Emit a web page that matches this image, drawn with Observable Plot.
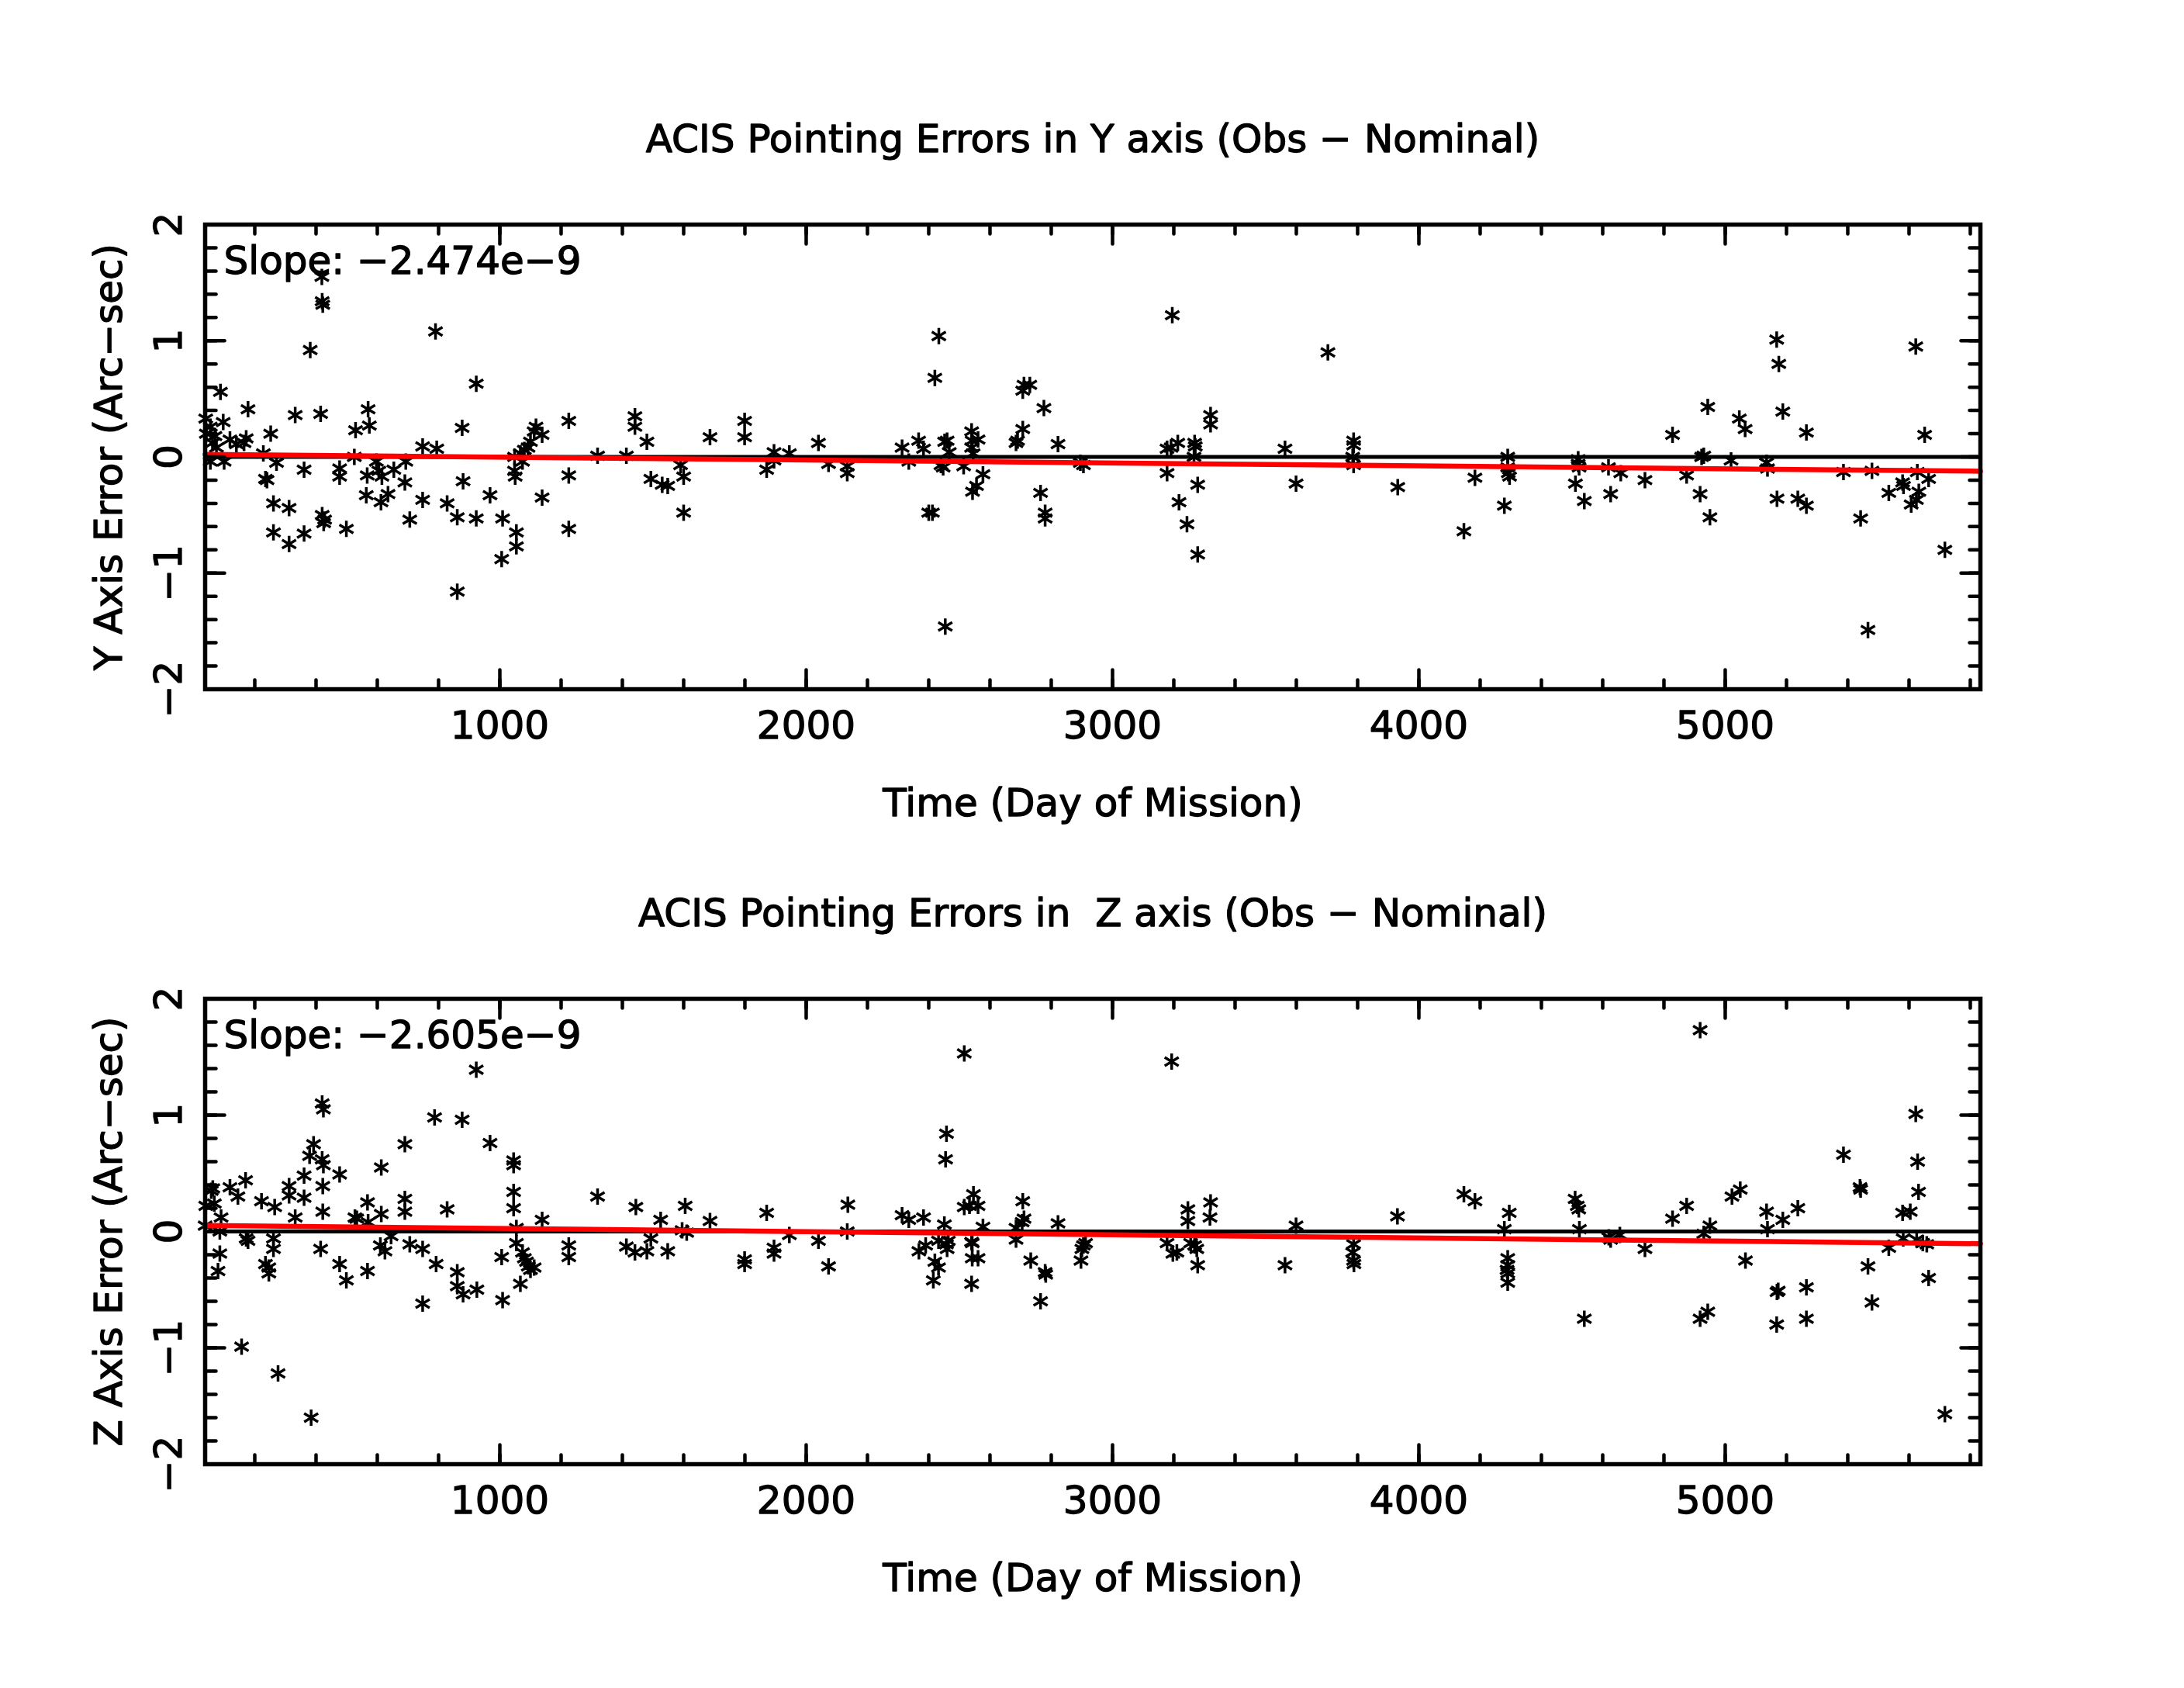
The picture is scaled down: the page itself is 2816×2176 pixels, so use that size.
<!DOCTYPE html>
<html>
<head>
<meta charset="utf-8">
<style>
  html, body { margin: 0; padding: 0; background: #fff; }
  svg { display: block; }
</style>
<script src="https://cdn.jsdelivr.net/npm/d3@7"></script>
<script src="https://cdn.jsdelivr.net/npm/@observablehq/plot@0.6"></script>
</head>
<body>
<div id="chart"></div>
<script>
// ---------------- data ----------------
const xDomain = [38, 5833];          // Day of Mission shown on the x axis
const yDomain = [-2, 2];             // Arc-sec

// Y-axis pointing errors: [day of mission, error (arc-sec)]
const yAxisPoints = [
  [40,0.33],[42,0.2],[55,0.26],[62,0.12],[70,0.18],[75,0.08],[55,-0.04],[88,0.56],[97,0.3],[100,-0.04],
  [119,0.15],[140,0.11],[165,0.12],[172,0.16],[178,0.41],
  [228,0.03],[235,-0.19],[240,-0.2],[252,0.2],[261,-0.4],[261,-0.65],[271,-0.05],[312,-0.44],[312,-0.75],
  [332,0.36],[361,-0.11],[361,-0.66],[381,0.92],[415,0.37],[419,1.55],[420,1.34],[422,1.31],[420,-0.5],
  [428,-0.54],[425,-0.57],[477,-0.1],[477,-0.17],[499,-0.62],[525,0.0],[529,0.23],[564,-0.33],[567,-0.16],
  [570,0.41],[574,0.27],[597,-0.04],[605,-0.12],[612,-0.39],[615,-0.17],[635,-0.32],[654,-0.11],[690,-0.22],
  [693,-0.04],[706,-0.54],[748,0.09],[748,-0.37],[790,1.08],[794,0.07],[828,-0.4],[861,-0.52],[861,-1.16],
  [877,0.25],[880,-0.21],[923,0.63],[923,-0.53],[968,-0.33],[1006,-0.88],[1009,-0.53],[1048,0.0],[1048,-0.12],
  [1050,-0.17],[1054,-0.65],[1054,-0.77],[1067,0.03],[1074,-0.04],[1080,0.06],[1092,0.08],[1100,0.13],
  [1112,0.22],[1118,0.26],[1138,0.19],[1138,-0.35],[1225,0.31],[1225,-0.16],[1225,-0.62],[1319,0.01],
  [1413,0.01],[1441,0.35],[1441,0.26],[1480,0.13],[1493,-0.19],[1530,-0.24],[1548,-0.25],[1590,-0.07],
  [1600,-0.17],[1600,-0.48],[1686,0.17],[1799,0.31],[1799,0.17],[1871,-0.11],[1895,0.04],[1895,-0.03],
  [1945,0.03],
  [2040,0.12],[2073,-0.06],[2134,-0.08],[2134,-0.14],[2313,0.08],[2335,-0.04],[2367,0.14],[2383,0.07],
  [2400,-0.48],[2412,-0.48],[2433,1.04],[2420,0.68],[2452,0.13],[2460,0.14],[2467,0.04],[2440,-0.07],
  [2447,-0.09],[2454,-1.46],[2514,-0.08],[2540,0.22],[2542,0.14],[2561,0.15],[2540,0.08],[2545,0.03],
  [2577,-0.15],[2556,-0.25],[2543,-0.3],[2685,0.12],[2690,0.14],[2707,0.24],[2711,0.62],[2730,0.62],
  [2707,0.57],[2776,0.42],[2765,-0.31],[2780,-0.48],[2780,-0.53],[2822,0.11],[2895,-0.05],[2905,-0.07],
  [3178,-0.14],[3178,0.07],[3191,0.08],[3213,0.12],[3195,1.22],[3217,-0.39],[3243,-0.58],[3268,0.12],
  [3270,0.09],[3266,0.0],[3278,-0.24],[3278,-0.84],[3320,0.36],[3320,0.28],[3563,0.07],[3599,-0.23],
  [3703,0.9],[3787,0.14],[3787,0.1],[3784,0.0],[3787,-0.07],
  [3931,-0.26],[4147,-0.64],[4183,-0.18],[4279,-0.42],[4290,0.0],[4290,-0.09],[4292,-0.14],[4296,-0.17],
  [4511,-0.23],[4520,-0.02],[4520,-0.06],[4523,-0.09],[4540,-0.38],[4619,-0.09],[4626,-0.32],[4659,-0.14],
  [4738,-0.2],[4828,0.19],[4874,-0.16],[4918,-0.32],[4923,0.0],[4930,0.01],[4943,0.43],[4950,-0.52],
  [5019,-0.03],[5046,0.33],[5065,0.24],[5135,-0.05],[5138,-0.1],[5168,1.01],[5175,0.8],[5188,0.39],
  [5169,-0.36],[5237,-0.36],[5265,-0.42],[5265,0.21],[5386,-0.13],[5442,-0.53],[5466,-1.49],[5479,-0.12],
  [5534,-0.31],[5579,-0.22],[5582,-0.25],[5607,-0.41],[5624,-0.37],[5632,-0.3],[5622,0.95],[5627,-0.13],
  [5664,-0.19],[5651,0.19],[5717,-0.8]
];

// Z-axis pointing errors: [day of mission, error (arc-sec)]
const zAxisPoints = [
  [923,1.39],[420,1.1],[424,1.05],[787,0.98],[877,0.96],[968,0.76],[690,0.75],[392,0.75],[379,0.65],
  [420,0.62],[424,0.57],[1045,0.61],[1045,0.57],[613,0.55],[477,0.49],[361,0.48],[312,0.39],[422,0.39],
  [170,0.44],[119,0.38],[63,0.37],[58,0.35],[145,0.3],[312,0.31],[361,0.29],[222,0.26],[265,0.21],
  [40,0.22],[68,0.24],[90,0.12],[332,0.12],[422,0.17],[527,0.12],[533,0.11],[568,0.25],[570,0.08],
  [613,0.15],[690,0.28],[690,0.17],[828,0.19],[1045,0.34],[1045,0.2],[1138,0.1],[1319,0.3],[1444,0.21],
  [1525,0.1],[1605,0.22],[1686,0.09],[1871,0.16],[38,0.05],[86,0.0],[172,-0.06],[178,-0.08],[261,-0.06],
  [261,-0.15],[86,-0.19],[80,-0.34],[235,-0.28],[246,-0.31],[246,-0.36],[415,-0.15],[477,-0.28],[499,-0.42],
  [568,-0.34],[610,-0.12],[625,-0.17],[645,-0.04],[706,-0.11],[748,-0.15],[792,-0.28],[861,-0.35],
  [861,-0.47],[880,-0.54],[925,-0.5],[748,-0.62],[1009,-0.59],[1006,-0.22],[1054,0.03],[1054,-0.1],
  [1074,-0.18],[1080,-0.23],[1087,-0.26],[1093,-0.3],[1100,-0.33],[1112,-0.31],[1067,-0.45],[1225,-0.12],
  [1225,-0.22],[1413,-0.13],[1441,-0.18],[1480,-0.17],[1493,-0.06],[1548,-0.17],[1595,0.01],[1610,-0.01],
  [1799,-0.24],[1799,-0.28],[1895,-0.14],[1895,-0.19],[1945,-0.03],[157,-0.99],[276,-1.22],[384,-1.6],
  [2040,-0.08],[2073,-0.3],[2136,0.23],[2134,0.0],[2313,0.14],[2335,0.1],[2383,0.12],[2368,-0.17],
  [2390,-0.12],[2420,-0.26],[2432,-0.31],[2415,-0.42],[2432,-0.08],[2451,0.06],[2458,-0.11],[2460,-0.15],
  [2464,-0.08],[2458,0.84],[2455,0.62],[2516,1.53],[2516,0.21],[2533,0.22],[2546,0.32],[2561,0.22],
  [2540,-0.09],[2542,-0.1],[2542,-0.23],[2561,-0.23],[2540,-0.45],[2577,0.04],[2685,0.03],[2685,-0.07],
  [2707,0.26],[2711,0.11],[2705,0.08],[2733,-0.25],[2780,-0.35],[2782,-0.37],[2765,-0.6],[2822,0.07],
  [2897,-0.25],[2900,-0.15],[2905,-0.12],[2912,-0.1],[3178,-0.1],[3197,-0.19],[3210,-0.18],[3193,1.46],
  [3246,0.19],[3246,0.09],[3255,-0.1],[3268,-0.12],[3275,-0.15],[3278,-0.29],[3320,0.25],[3318,0.12],
  [3563,-0.29],[3599,0.05],[3787,-0.11],[3784,-0.18],[3787,-0.25],[3788,-0.28],[3930,0.13],
  [4147,0.32],[4183,0.26],[4279,0.02],[4295,0.16],[4290,-0.23],[4290,-0.29],[4288,-0.33],[4290,-0.36],
  [4290,-0.44],[4510,0.28],[4517,0.22],[4522,0.19],[4524,0.02],[4540,-0.75],[4620,-0.05],[4626,-0.07],
  [4656,-0.03],[4738,-0.15],[4828,0.11],[4874,0.22],[4918,1.73],[4930,-0.02],[4950,0.05],[4918,-0.75],
  [4943,-0.69],[5022,0.3],[5049,0.36],[5066,-0.25],[5135,0.17],[5138,0.02],[5169,-0.52],[5173,-0.51],
  [5168,-0.8],[5188,0.1],[5237,0.2],[5265,-0.48],[5265,-0.75],[5386,0.66],[5440,0.38],[5442,0.36],
  [5466,-0.3],[5479,-0.61],[5534,-0.14],[5579,0.16],[5604,0.17],[5581,-0.06],[5622,1.01],[5628,0.6],
  [5631,0.34],[5625,-0.07],[5645,-0.1],[5658,-0.11],[5664,-0.4],[5717,-1.57]
];

// linear fit lines (read at the two ends of the x axis)
const fitDays = [38, 5833];
const yFitValues = [0.022, -0.123];
const zFitValues = [0.052, -0.105];

// axis ticks and labels
const xMajorTicks = [1000, 2000, 3000, 4000, 5000];
const xTickLabels = ["1000", "2000", "3000", "4000", "5000"];
const xMinorTicks = d3.range(200, 5801, 200);
const yMajorTicks = [-2, -1, 0, 1, 2];
const yTickLabels = ["\u22122", "\u22121", "0", "1", "2"];
const yMinorTicks = d3.range(-1.8, 1.81, 0.2);

// texts
const titles = ["ACIS Pointing Errors in Y axis (Obs \u2212 Nominal)",
                "ACIS Pointing Errors in  Z axis (Obs \u2212 Nominal)"];
const yLabels = ["Y Axis Error (Arc\u2212sec)", "Z Axis Error (Arc\u2212sec)"];
const slopeLabels = ["Slope: \u22122.474e\u22129", "Slope: \u22122.605e\u22129"];
const xLabel = "Time (Day of Mission)";

// ---------------- drawing ----------------
const FONT = 50;
const TEXT_STYLE = {fontSize: FONT, fill: "black", stroke: "black", strokeWidth: 1.3};
const asterisk = {
  draw(context, size) {
    const r = Math.sqrt(size / Math.PI);
    for (const a of [90, 31, -31]) {
      const t = a * Math.PI / 180;
      const dx = r * Math.cos(t), dy = r * Math.sin(t);
      context.moveTo(-dx, -dy);
      context.lineTo(dx, dy);
    }
  }
};
const tickShape = {
  draw(context, l) { context.moveTo(0, 0); context.lineTo(0, -l); }
};

function ticks(values, channel, frameAnchor, rotate, length) {
  return Plot.vector(values, {
    [channel]: d => d, frameAnchor, rotate, length, anchor: "start",
    shape: tickShape, stroke: "black", strokeWidth: 4.5
  });
}

function panel(i, points, fitValues, marginTop, marginBottom) {
  const fitRows = fitDays.map((d, k) => ({day: d, value: fitValues[k]}));
  return Plot.plot({
    width: 2816,
    height: 1088,
    marginLeft: 264,
    marginRight: 263,
    marginTop,
    marginBottom,
    style: "background:white;color:black;font-family:'DejaVu Sans',sans-serif;white-space:pre;overflow:visible;",
    x: {domain: xDomain, axis: null},
    y: {domain: yDomain, axis: null},
    marks: [
      Plot.dot(points, {x: d => d[0], y: d => d[1], symbol: asterisk, r: 10.5,
                        fill: "none", stroke: "black", strokeWidth: 3.5}),
      Plot.ruleY([0], {stroke: "black", strokeWidth: 5}),
      Plot.line(fitRows, {x: "day", y: "value", stroke: "#ff0000", strokeWidth: 6.5}),
      // ticks on all four sides, pointing inward
      ticks(xMajorTicks, "x", "bottom", 0, 25),
      ticks(xMinorTicks, "x", "bottom", 0, 12),
      ticks(xMajorTicks, "x", "top", 180, 25),
      ticks(xMinorTicks, "x", "top", 180, 12),
      ticks(yMajorTicks, "y", "left", 90, 25),
      ticks(yMinorTicks, "y", "left", 90, 14),
      ticks(yMajorTicks, "y", "right", -90, 25),
      ticks(yMinorTicks, "y", "right", -90, 14),
      Plot.frame({stroke: "black", strokeWidth: 5.5}),
      // tick labels
      Plot.text(xMajorTicks, {x: d => d, text: (d, k) => xTickLabels[k], frameAnchor: "bottom",
                              dy: 63, lineAnchor: "bottom", ...TEXT_STYLE}),
      Plot.text(yMajorTicks, {y: d => d, text: (d, k) => yTickLabels[k], frameAnchor: "left",
                              dx: -31, rotate: -90, textAnchor: "middle", lineAnchor: "bottom",
                              ...TEXT_STYLE}),
      // axis titles
      Plot.text([xLabel], {text: d => d, frameAnchor: "bottom", dy: 163, lineAnchor: "bottom",
                           ...TEXT_STYLE}),
      Plot.text([yLabels[i]], {text: d => d, frameAnchor: "left", dx: -108, rotate: -90,
                               textAnchor: "middle", lineAnchor: "bottom", ...TEXT_STYLE}),
      // panel title and slope annotation
      Plot.text([titles[i]], {text: d => d, frameAnchor: "top", dy: -94, lineAnchor: "bottom",
                              ...TEXT_STYLE}),
      Plot.text([slopeLabels[i]], {text: d => d, frameAnchor: "top-left", dx: 24, dy: 63,
                                   textAnchor: "start", lineAnchor: "bottom", ...TEXT_STYLE})
    ]
  });
}

const chart = document.getElementById("chart");
chart.appendChild(panel(0, yAxisPoints, yFitValues, 289, 200));
chart.appendChild(panel(1, zAxisPoints, zFitValues, 199, 289));
</script>
</body>
</html>
